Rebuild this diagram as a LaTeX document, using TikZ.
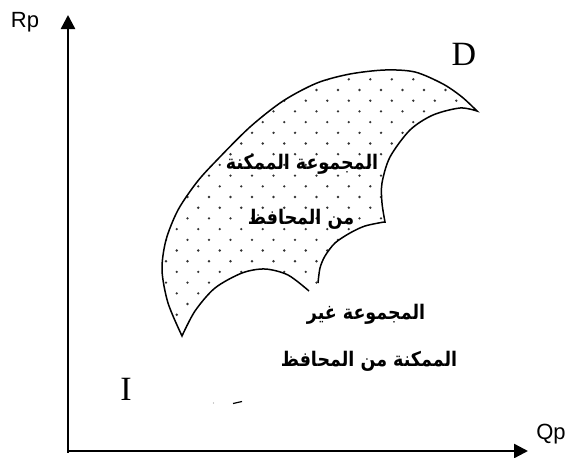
\documentclass[tikz,border=0pt]{standalone}
\usepackage{fontspec}
\usepackage{graphicx}
\usetikzlibrary{arrows.meta}
\setmainfont{Liberation Serif}
\newfontfamily\lsans{Liberation Sans}
\newfontfamily\arabicfont[Script=Arabic]{DejaVu Sans}
\TeXXeTstate=1
\newcommand\artxt[1]{\scalebox{1}[1.15]{\beginR #1\endR}}
\tikzset{
  axisline/.style={line width=2.4pt,-{Triangle[width=14pt,length=14pt]}},
  setcurve/.style={line width=1.5pt},
  axislabel/.style={font=\lsans\fontsize{22}{24}\selectfont,inner sep=0pt},
  pointlabel/.style={font=\fontsize{34}{36}\selectfont,inner sep=0pt},
  artext/.style={font=\arabicfont\bfseries\fontsize{17.5}{19}\selectfont,inner sep=0pt},
  dotmark/.style={fill=black!80}
}
\begin{document}
\begin{tikzpicture}[x=1pt,y=-1pt]
\useasboundingbox (0,0) rectangle (568,458);
% region outline (saved)
\path[save path=\regionpath]
  plot[smooth] coordinates {(309,291) (288,275) (265,269) (242,273) (215,288) (195,311) (182,336)}
  -- plot[smooth] coordinates {(182,336) (168,303) (162,270) (166,240) (178,210) (197,182) (217,160) (250,127) (283,101) (317,83) (350,74) (385,70) (415,72) (443,84) (462,97) (477,111)}
  -- plot[smooth] coordinates {(477,111) (460,108) (433,115) (410,130) (390,157) (382,183) (382,203) (385,222)}
  -- plot[smooth] coordinates {(384,222) (365,226) (350,233) (335,243) (325,256) (320,268) (318,283)}
  -- cycle;
\begin{scope}
  \clip[use path=\regionpath];
  \foreach \j in {0,...,27}{
    \pgfmathsetmacro{\yy}{68.6+10.7*\j}
    \pgfmathsetmacro{\xo}{mod(\j,2)==0 ? 15.5 : 26.25}
    \foreach \i in {6,...,22}{
      \fill[dotmark] ({\xo+21.5*\i},\yy) circle (1.3pt);
    }
  }
\end{scope}
\draw[setcurve]
  plot[smooth] coordinates {(309,291) (288,275) (265,269) (242,273) (215,288) (195,311) (182,336)}
  -- plot[smooth] coordinates {(182,336) (168,303) (162,270) (166,240) (178,210) (197,182) (217,160) (250,127) (283,101) (317,83) (350,74) (385,70) (415,72) (443,84) (462,97) (477,111)}
  -- plot[smooth] coordinates {(477,111) (460,108) (433,115) (410,130) (390,157) (382,183) (382,203) (385,222)}
  -- plot[smooth] coordinates {(384,222) (365,226) (350,233) (335,243) (325,256) (320,268) (318,283)};
% axes
\coordinate (O) at (68,452.5);
\coordinate (Oh) at (67,451);
\coordinate (ytip) at (68,15);
\coordinate (xtip) at (528,451);
\draw[axisline] (O) -- (ytip);
\draw[axisline] (Oh) -- (xtip);
% labels
\node[axislabel] (rp) at (25,22) {Rp};
\node[axislabel] (qp) at (551,434) {Qp};
\node[pointlabel] (d) at (464,54) {D};
\node[pointlabel] (i) at (126,389) {I};
% arabic texts
\node[artext] (f1) at (302,164) {\artxt{المجموعة الممكنة}};
\node[artext] (f2) at (301,219) {\artxt{من المحافظ}};
\node[artext] (n1) at (366,314) {\artxt{المجموعة غير}};
\node[artext] (n2) at (369,361) {\artxt{الممكنة من المحافظ}};
% small stray mark
\coordinate (m1) at (233,403.5);
\coordinate (m2) at (242,401.5);
\draw[line width=1.2pt] (m1) -- (m2);
\fill[black!40] (213.5,403) circle (0.6pt);
\end{tikzpicture}
\end{document}
